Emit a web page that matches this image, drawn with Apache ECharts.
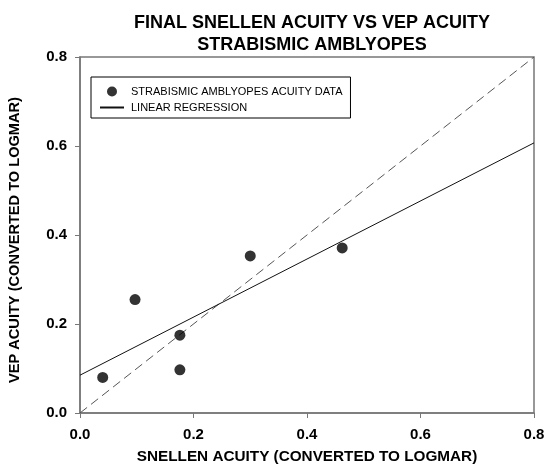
<!DOCTYPE html>
<html>
<head>
<meta charset="utf-8">
<script src="https://cdn.jsdelivr.net/npm/echarts@6/dist/echarts.min.js"></script>
<style>html,body{margin:0;padding:0;background:#fff;}#c{width:554px;height:469px;}</style>
</head>
<body>
<div id="c"></div>
<script>
var titleLines = ['FINAL SNELLEN ACUITY VS VEP ACUITY', 'STRABISMIC AMBLYOPES'];
var xAxisName = 'SNELLEN ACUITY (CONVERTED TO LOGMAR)';
var yAxisName = 'VEP ACUITY (CONVERTED TO LOGMAR)';
var scatterName = 'STRABISMIC AMBLYOPES ACUITY DATA';
var regressionName = 'LINEAR REGRESSION';
var snellenX = [0.040, 0.097, 0.176, 0.176, 0.300, 0.462];
var vepY = [0.080, 0.255, 0.175, 0.097, 0.353, 0.371];
var regressionX = [0.0, 0.8];
var regressionY = [0.085, 0.607];
var identityX = [0.0, 0.8];
var identityY = [0.0, 0.8];

var font = 'Liberation Sans, Arial, sans-serif';
function pairs(xs, ys){ return xs.map(function(x,i){ return [x, ys[i]]; }); }

var chart = echarts.init(document.getElementById('c'), null, {renderer:'canvas'});
chart.setOption({
  animation: false,
  backgroundColor: '#fff',
  title: {
    text: titleLines.join('\n'),
    left: 307, top: 7, textAlign: 'center',
    textStyle: {fontFamily: font, fontWeight: 'bold', fontSize: 18, color: '#000', lineHeight: 22}
  },
  legend: {
    orient: 'vertical', left: 91, top: 77,
    backgroundColor: '#fff', borderColor: '#000', borderWidth: 1,
    padding: [9, 8, 5, 8], itemGap: 5, itemWidth: 24, itemHeight: 10,
    textStyle: {fontFamily: font, fontSize: 11, color: '#000', lineHeight: 10, padding: [0, 0, 0, 2]},
    data: [{name: scatterName}, {name: regressionName}]
  },
  grid: {left: 80, right: 20, top: 57, bottom: 56, outerBoundsMode: 'none', containLabel: false,
         show: true, borderColor: '#777', borderWidth: 1.5, backgroundColor: 'transparent'},
  xAxis: {
    type: 'value', min: 0, max: 0.8, interval: 0.2,
    name: xAxisName, nameLocation: 'middle', nameGap: 36,
    nameTextStyle: {fontFamily: font, fontWeight: 'bold', fontSize: 15.3, color: '#000'},
    axisLine: {show: true, lineStyle: {color: '#777', width: 1.5}},
    axisTick: {show: true, inside: false, length: 5, lineStyle: {color: '#777'}},
    axisLabel: {fontFamily: font, fontWeight: 'bold', fontSize: 15, color: '#000', margin: 14, formatter: function(v){return v.toFixed(1);}},
    splitLine: {show: false}
  },
  yAxis: {
    type: 'value', min: 0, max: 0.8, interval: 0.2,
    name: yAxisName, nameLocation: 'middle', nameGap: 58, nameRotate: 90,
    nameTextStyle: {fontFamily: font, fontWeight: 'bold', fontSize: 14.6, color: '#000', padding: [0, 10, 0, 0]},
    axisLine: {show: true, lineStyle: {color: '#777', width: 1.5}},
    axisTick: {show: true, inside: false, length: 5, lineStyle: {color: '#777'}},
    axisLabel: {fontFamily: font, fontWeight: 'bold', fontSize: 15, color: '#000', margin: 13, formatter: function(v){return v.toFixed(1);}},
    splitLine: {show: false}
  },
  series: [
    {
      name: 'identity', type: 'line', data: pairs(identityX, identityY),
      symbol: 'none', lineStyle: {color: '#555', width: 1, type: [9, 5]}, silent: true, z: 1
    },
    {
      name: regressionName, type: 'line', data: pairs(regressionX, regressionY),
      symbol: 'none', lineStyle: {color: '#111', width: 1}, itemStyle: {color: 'rgba(0,0,0,0)'}, z: 2
    },
    {
      name: scatterName, type: 'scatter', data: pairs(snellenX, vepY),
      symbol: 'circle', symbolSize: 11, itemStyle: {color: '#000'}, z: 3
    }
  ]
});
</script>
</body>
</html>
